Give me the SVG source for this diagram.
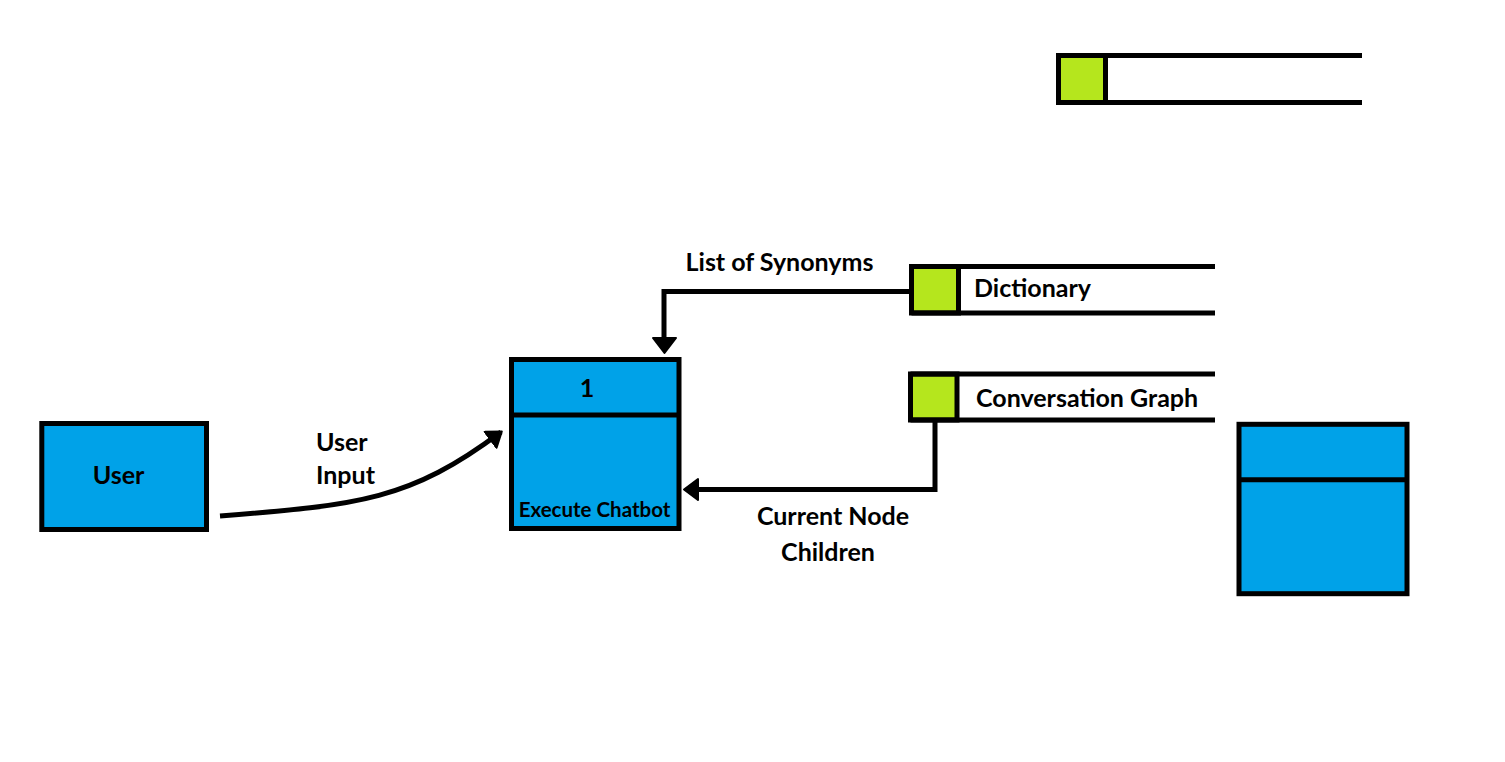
<svg xmlns="http://www.w3.org/2000/svg" width="1505" height="762" viewBox="0 0 1505 762">
<style>
.box{fill:#00A2E8;stroke:#000;stroke-width:5}
.grn{fill:#B5E61D;stroke:#000;stroke-width:5}
.ln{fill:none;stroke:#000;stroke-width:5}
.t{font-family:Lato,"Liberation Sans",sans-serif;font-weight:bold;fill:#000;font-size:25px}
.ts{font-family:Lato,"Liberation Sans",sans-serif;font-weight:bold;fill:#000;font-size:20.5px}
</style>
<defs>
<marker id="ah" markerUnits="userSpaceOnUse" markerWidth="24" markerHeight="24" refX="14" refY="11" orient="auto">
<path d="M1,1 L15,11 L1,21 Z" fill="#000" stroke="#000" stroke-width="2" stroke-linejoin="round"/>
</marker>
</defs>
<rect width="1505" height="762" fill="#fff"/>
<g id="connectors">
<path class="ln" d="M220,516 C360,505 410,500 501,432" marker-end="url(#ah)"/>
<path class="ln" d="M911,291.5 L664,291.5 L664,339"/>
<path d="M653,338 L676,338 L664.5,353 Z" fill="#000" stroke="#000" stroke-width="2" stroke-linejoin="round"/>
<path class="ln" d="M935,420 L935,489.5 L697,489.5"/>
<path d="M698,479 L698,500 L684,489.5 Z" fill="#000" stroke="#000" stroke-width="2" stroke-linejoin="round"/>
</g>
<g id="store-top">
<rect class="grn" x="1058.5" y="55.5" width="47" height="47"/>
<path class="ln" d="M1058.5,55.5 L1362,55.5 M1058.5,102.5 L1362,102.5"/>
</g>
<g id="store-dictionary">
<rect class="grn" x="911.5" y="266.5" width="47" height="46.5"/>
<path class="ln" d="M911.5,266.5 L1215,266.5 M911.5,313 L1215,313"/>
<text class="t" x="974" y="297">Dictionary</text>
</g>
<g id="store-graph">
<rect class="grn" x="910.5" y="374" width="46.5" height="46"/>
<path class="ln" d="M910.5,374 L1215,374 M910.5,420 L1215,420"/>
<text class="t" x="976" y="407">Conversation Graph</text>
</g>
<g id="user">
<rect class="box" x="41.8" y="423.5" width="164.7" height="106"/>
<text class="t" x="118.5" y="483.5" text-anchor="middle">User</text>
</g>
<g id="process-1">
<rect class="box" x="511.5" y="359.5" width="167.5" height="169" stroke-width="4.5"/>
<path class="ln" d="M511.5,415 L679,415" stroke-width="4.5"/>
<text class="t" x="587" y="397" text-anchor="middle">1</text>
<text class="ts" x="594.5" y="517" text-anchor="middle">Execute Chatbot</text>
</g>
<g id="process-empty">
<rect class="box" x="1239" y="424.3" width="168" height="169.4" stroke-width="4.5"/>
<path class="ln" d="M1239,479.7 L1407,479.7" stroke-width="4.5"/>
</g>
<g id="labels">
<text class="t" x="779.5" y="271" text-anchor="middle">List of Synonyms</text>
<text class="t" x="316" y="451">User</text>
<text class="t" x="316" y="484">Input</text>
<text class="t" x="833" y="525" text-anchor="middle">Current Node</text>
<text class="t" x="828" y="561" text-anchor="middle">Children</text>
</g>
</svg>
